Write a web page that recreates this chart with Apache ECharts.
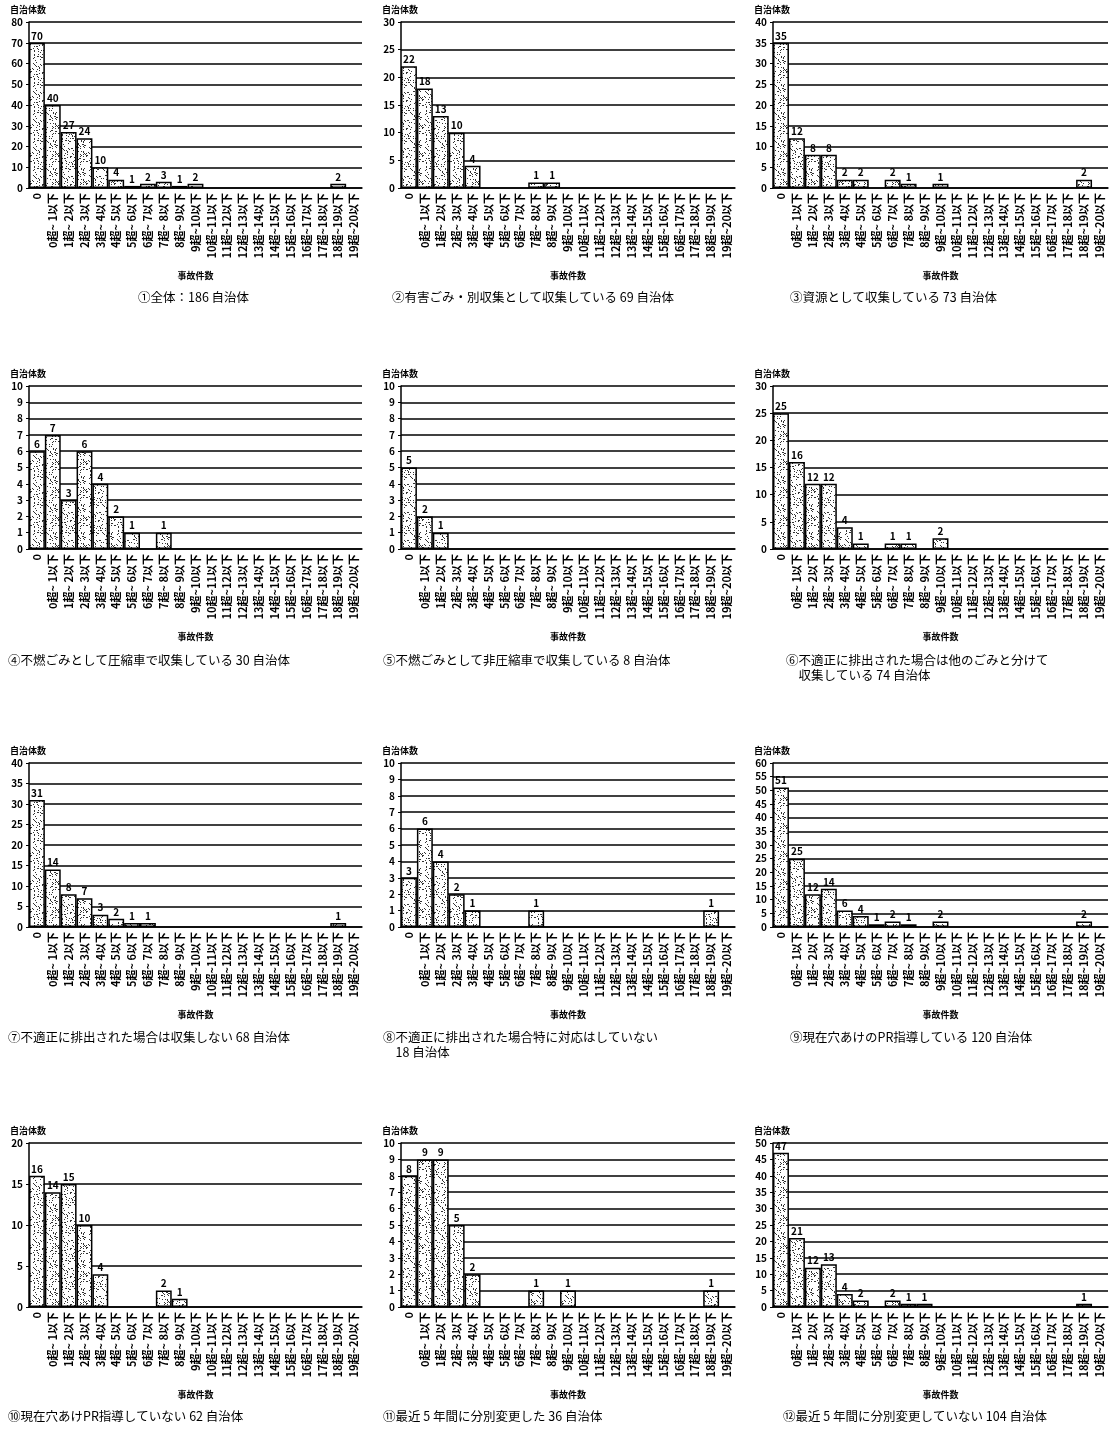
<!DOCTYPE html>
<html><head><meta charset="utf-8">
<script src="https://cdn.jsdelivr.net/npm/echarts@6/dist/echarts.min.js"></script>
<style>html,body{margin:0;padding:0;background:#fff}#c{width:1110px;height:1430px}</style>
</head><body><div id="c"></div>
<script>
const categories = ['0','0超~ 1以下','1超~ 2以下','2超~ 3以下','3超~ 4以下','4超~ 5以下','5超~ 6以下','6超~ 7以下','7超~ 8以下','8超~ 9以下','9超~10以下','10超~11以下','11超~12以下','12超~13以下','13超~14以下','14超~15以下','15超~16以下','16超~17以下','17超~18以下','18超~19以下','19超~20以下'];
const s1  = [70,40,27,24,10,4,1,2,3,1,2,0,0,0,0,0,0,0,0,2,0];
const s2  = [22,18,13,10,4,0,0,0,1,1,0,0,0,0,0,0,0,0,0,0,0];
const s3  = [35,12,8,8,2,2,0,2,1,0,1,0,0,0,0,0,0,0,0,2,0];
const s4  = [6,7,3,6,4,2,1,0,1,0,0,0,0,0,0,0,0,0,0,0,0];
const s5  = [5,2,1,0,0,0,0,0,0,0,0,0,0,0,0,0,0,0,0,0,0];
const s6  = [25,16,12,12,4,1,0,1,1,0,2,0,0,0,0,0,0,0,0,0,0];
const s7  = [31,14,8,7,3,2,1,1,0,0,0,0,0,0,0,0,0,0,0,1,0];
const s8  = [3,6,4,2,1,0,0,0,1,0,0,0,0,0,0,0,0,0,0,1,0];
const s9  = [51,25,12,14,6,4,1,2,1,0,2,0,0,0,0,0,0,0,0,2,0];
const s10 = [16,14,15,10,4,0,0,0,2,1,0,0,0,0,0,0,0,0,0,0,0];
const s11 = [8,9,9,5,2,0,0,0,1,0,1,0,0,0,0,0,0,0,0,1,0];
const s12 = [47,21,12,13,4,2,0,2,1,1,0,0,0,0,0,0,0,0,0,1,0];
const seriesValues = [s1,s2,s3,s4,s5,s6,s7,s8,s9,s10,s11,s12];
const yMax = [80,30,40,10,10,30,40,10,60,20,10,50];
const yInterval = [10,5,5,1,1,5,5,1,5,5,1,5];
const captions = [
 '①全体：186 自治体',
 '②有害ごみ・別収集として収集している 69 自治体',
 '③資源として収集している 73 自治体',
 '④不燃ごみとして圧縮車で収集している 30 自治体',
 '⑤不燃ごみとして非圧縮車で収集している 8 自治体',
 '⑥不適正に排出された場合は他のごみと分けて\n　収集している 74 自治体',
 '⑦不適正に排出された場合は収集しない 68 自治体',
 '⑧不適正に排出された場合特に対応はしていない\n　18 自治体',
 '⑨現在穴あけのPR指導している 120 自治体',
 '⑩現在穴あけPR指導していない 62 自治体',
 '⑪最近 5 年間に分別変更した 36 自治体',
 '⑫最近 5 年間に分別変更していない 104 自治体'
];
const yName = '自治体数';
const xName = '事故件数';

// layout
const colLeft = [29, 401, 773];
const colWidth = [333, 334, 335];
const rowTop = [22, 386, 763, 1143];
const rowH = [166, 163, 164, 164];
const capY = [290, 653, 1030, 1409];
const capX = [138, 392, 790, 8, 383, 786, 8, 383, 790, 8, 383, 783];

function makePattern(){
  const c=document.createElement('canvas'); c.width=c.height=28;
  const g=c.getContext('2d'); g.fillStyle='#fff'; g.fillRect(0,0,28,28);
  g.fillStyle='#333'; let s=12345;
  for(let i=0;i<120;i++){
    s=(Math.imul(s,1103515245)+12345)>>>0; const x=(s>>>8)%28;
    s=(Math.imul(s,1103515245)+12345)>>>0; const y=(s>>>8)%28;
    g.fillRect(x,y,1,1);
  }
  return c;
}
const pat = makePattern();
const FONT = '"Noto Sans CJK JP", "Noto Sans", sans-serif';

const grids=[], xAxes=[], yAxes=[], series=[], graphics=[];
for(let i=0;i<12;i++){
  const r=Math.floor(i/3), c=i%3;
  grids.push({left:colLeft[c], top:rowTop[r], width:colWidth[c], height:rowH[r], containLabel:false});
  xAxes.push({type:'category', gridIndex:i, data:categories,
    axisLine:{lineStyle:{color:'#000',width:1.5}},
    axisTick:{inside:true,length:3,lineStyle:{color:'#000'}},
    axisLabel:{rotate:90, interval:0, fontSize:11, fontWeight:'bold', color:'#000', fontFamily:FONT, margin:5},
    name:xName, nameLocation:'middle', nameGap:83,
    nameTextStyle:{fontSize:9, fontWeight:'bold', color:'#000', fontFamily:FONT}
  });
  yAxes.push({type:'value', gridIndex:i, min:0, max:yMax[i], interval:yInterval[i],
    axisLine:{show:true,lineStyle:{color:'#000',width:1.5}},
    axisTick:{show:true,length:3,lineStyle:{color:'#000'}},
    axisLabel:{fontSize:10, fontWeight:'bold', color:'#000', fontFamily:FONT, margin:6},
    splitLine:{show:true,lineStyle:{color:'#000',width:1.6}}
  });
  graphics.push({type:'text', left:colLeft[c]-19, top:rowTop[r]-17,
    style:{text:yName, font:'bold 9px '+FONT, fill:'#000'}});
  graphics.push({type:'text', left:capX[i], top:capY[r],
    style:{text:captions[i], font:'12.5px '+FONT, fill:'#000', lineHeight:15}});
  series.push({type:'bar', xAxisIndex:i, yAxisIndex:i,
    data:seriesValues[i].map(v=>v===0?null:v),
    barCategoryGap:'0%',
    itemStyle:{color:{image:pat, repeat:'repeat'}, borderColor:'#000', borderWidth:1.5},
    label:{show:true, position:'top', distance:2, fontSize:10, fontWeight:'bold', color:'#000', fontFamily:FONT},
    animation:false
  });
}
const chart = echarts.init(document.getElementById('c'));
chart.setOption({animation:false, backgroundColor:'#fff', grid:grids, xAxis:xAxes, yAxis:yAxes, series:series, graphic:graphics});
</script></body></html>
